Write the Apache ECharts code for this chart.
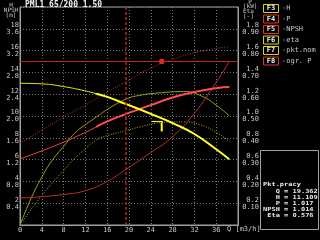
<!DOCTYPE html>
<html><head><meta charset="utf-8">
<script src="https://cdn.jsdelivr.net/npm/echarts@6/dist/echarts.min.js"></script>
<style>html,body{margin:0;padding:0;background:#000;}#c{width:320px;height:240px;}</style>
</head><body><div id="c"></div>
<script>
// ---- data ----
const title = 'PML1 65/200 1.50';
const qTickLabels = ['0','4','8','12','16','20','24','28','32','36'];
const hTickLabels = ['2','4','6','8','10','12','14','16','18'];
const npshTickLabels = ['0.4','0.8','1.2','1.6','2.0','2.4','2.8','3.2','3.6'];
const pTickLabels = ['0.2','0.4','0.6','0.8','1.0','1.2','1.4','1.6','1.8'];
const etaTickLabels = ['0.10','0.20','0.30','0.40','0.50','0.60','0.70','0.80','0.90'];

const qH    = [0, 4, 8, 12, 14, 16, 19.362, 24, 28, 32, 36, 38.4];
const hVals = [13.0, 12.95, 12.7, 12.3, 12.05, 11.75, 11.109, 10.2, 9.35, 8.35, 6.95, 6.03];

const qP    = [0, 4, 8, 12, 14, 16, 19.362, 24, 28, 32, 36, 38.4];
const pVals = [0.606, 0.68, 0.76, 0.85, 0.90, 0.95, 1.017, 1.10, 1.17, 1.22, 1.255, 1.265];

const qPmax    = [0, 4, 8, 12, 16, 20, 24, 28, 32, 36, 38.4];
const pMaxVals = [0.75, 0.87, 0.99, 1.10, 1.22, 1.33, 1.44, 1.52, 1.58, 1.62, 1.635];

const qNpsh    = [0, 4, 8, 12, 16, 19.362, 24, 28, 32, 36, 38.4];
const npshVals = [0.495, 0.52, 0.56, 0.63, 0.80, 1.014, 1.33, 1.62, 2.05, 2.62, 3.0];

const qEta    = [0, 2, 4, 6, 8, 10, 12, 14, 16, 19.362, 22, 26, 30, 33, 36, 38.4];
const etaVals = [0, 0.12, 0.22, 0.30, 0.36, 0.42, 0.46, 0.495, 0.53, 0.576, 0.595, 0.607, 0.612, 0.595, 0.55, 0.50];
const eta2Vals = [0, 0.07, 0.135, 0.195, 0.25, 0.305, 0.35, 0.39, 0.41, 0.432, 0.45, 0.47, 0.473, 0.46, 0.425, 0.383];

const thickFromQ = 14;
const opQ = 19.362;
const limitP = 1.5;
const nomQ = 26, nomH = 9.5;

const legendKeys = ['F3','F4','F5','F6','F7','F8'];
const legendTexts = ['-H','-P','-NPSH','-eta','-pkt.nom','-ogr. P'];
const legendColors = ['#d8d800','#e03030','#e03030','#d8d800','#d8d800','#e03030'];

const infoTitle = 'Pkt.pracy';
const infoLabels = ['Q','H','P','NPSH','Eta'];
const infoValues = ['19.362','11.109','1.017','1.014','0.576'];

// ---- build ----
const zip = (xs, ys) => xs.map((x, i) => [x, ys[i]]);
const F = 'DejaVu Sans Mono';
const TXT = '#c8c8c8';

function tickFmt(labels, step){
  return v => {
    const i = Math.round(v / step) - 1;
    return (i >= 0 && i < labels.length && Math.abs(v - (i+1)*step) < step*0.01) ? labels[i] : '';
  };
}

const chart = echarts.init(document.getElementById('c'));
const axisLine = {show:true, lineStyle:{color:'#a0a0a0', width:1}};
const lab = {fontFamily:F, fontSize:7, color:TXT};
const gridLine = {show:true, lineStyle:{color:'#747474', type:[1,2], width:1}};

const graphic = [];
graphic.push({type:'text', x:25, y:4.5, style:{text:title, font:'bold 8px '+F, fill:'#f0f0f0', verticalAlign:'middle'}});
graphic.push({type:'text', x:11, y:5, style:{text:'H', font:'6px '+F, fill:TXT, align:'center', verticalAlign:'middle'}});
graphic.push({type:'text', x:11, y:10, style:{text:'NPSH', font:'6px '+F, fill:TXT, align:'center', verticalAlign:'middle'}});
graphic.push({type:'text', x:11, y:15, style:{text:'[m]', font:'6px '+F, fill:TXT, align:'center', verticalAlign:'middle'}});
graphic.push({type:'text', x:250, y:2, style:{text:'P', font:'6px '+F, fill:TXT, align:'center', verticalAlign:'middle'}});
graphic.push({type:'text', x:243, y:6.5, style:{text:'[kW]', font:'6px '+F, fill:TXT, align:'left', verticalAlign:'middle'}});
graphic.push({type:'text', x:243, y:11.5, style:{text:'Eta', font:'6px '+F, fill:TXT, align:'left', verticalAlign:'middle'}});
graphic.push({type:'text', x:243, y:16.5, style:{text:'[-]', font:'6px '+F, fill:TXT, align:'left', verticalAlign:'middle'}});
graphic.push({type:'text', x:227, y:229, style:{text:'Q [m3/h]', font:'7px '+F, fill:TXT, align:'left', verticalAlign:'middle'}});

legendKeys.forEach((k, i) => {
  const y = 4 + i * 10.5;
  graphic.push({type:'rect', shape:{x:263.5, y:y+0.5, width:15, height:8}, style:{fill:'#000', stroke:legendColors[i], lineWidth:1}});
  graphic.push({type:'text', x:271, y:y+4.5, style:{text:k, font:'bold 7px '+F, fill:'#f0f0f0', align:'center', verticalAlign:'middle'}});
  graphic.push({type:'text', x:282, y:y+4.5, style:{text:legendTexts[i], font:'7px '+F, fill:TXT, align:'left', verticalAlign:'middle'}});
});

graphic.push({type:'rect', shape:{x:260.5, y:150.5, width:58, height:79}, style:{fill:'#000', stroke:'#a0a0a0', lineWidth:1}});
graphic.push({type:'text', x:263, y:154, scaleY:0.8, originY:154,
  style:{text:infoTitle, font:'bold 7px '+F, fill:'#f0f0f0', align:'left', verticalAlign:'middle'}});
infoLabels.forEach((l, i) => {
  const y = 159.5 + i * 5;
  const line = l.padStart(4, ' ') + ' = ' + infoValues[i];
  graphic.push({type:'text', x:263, y:y, scaleY:0.8, originY:y,
    style:{text:line, font:'bold 7px '+F, fill:'#e8e8e8', align:'left', verticalAlign:'middle'}});
});

const hThick = zip(qH, hVals).filter(p => p[0] >= thickFromQ);
const pThick = zip(qP, pVals).filter(p => p[0] >= thickFromQ);

chart.setOption({
  backgroundColor:'#000',
  animation:false,
  grid:{left:20, top:7, right:82, bottom:15, show:true, borderColor:'#a0a0a0', borderWidth:1, backgroundColor:'transparent'},
  xAxis:{type:'value', min:0, max:40, interval:4, axisLine, axisTick:{show:false},
    axisLabel:{...lab, margin:2, formatter:v => (v % 4 === 0 && v < 40) ? qTickLabels[v/4] : ''},
    splitLine:gridLine},
  yAxis:[
    {type:'value', min:0, max:20, interval:2, position:'left', axisLine, axisTick:{show:false},
      axisLabel:{...lab, margin:1, verticalAlign:'bottom', formatter:tickFmt(hTickLabels, 2)},
      splitLine:gridLine},
    {type:'value', min:0, max:4, interval:0.4, position:'left', axisLine:{show:false}, axisTick:{show:false},
      axisLabel:{...lab, margin:1, verticalAlign:'top', formatter:tickFmt(npshTickLabels, 0.4)}, splitLine:{show:false}},
    {type:'value', min:0, max:2, interval:0.2, position:'right', axisLine, axisTick:{show:false},
      axisLabel:{...lab, margin:21, align:'right', verticalAlign:'bottom', formatter:tickFmt(pTickLabels, 0.2)}, splitLine:{show:false}},
    {type:'value', min:0, max:1, interval:0.1, position:'right', axisLine:{show:false}, axisTick:{show:false},
      axisLabel:{...lab, margin:21, align:'right', verticalAlign:'top', formatter:tickFmt(etaTickLabels, 0.1)}, splitLine:{show:false}}
  ],
  graphic,
  series:[
    {type:'line', yAxisIndex:2, data:zip(qPmax, pMaxVals), smooth:true, symbol:'none', silent:true,
      lineStyle:{color:'#c83030', width:1, type:[1,1.5]},
      markLine:{symbol:'none', silent:true, label:{show:false},
        data:[{yAxis:limitP, lineStyle:{color:'#c82020', width:1, type:'solid'}}]}},
    {type:'line', yAxisIndex:3, data:zip(qEta, eta2Vals), smooth:true, symbol:'none', silent:true,
      lineStyle:{color:'#b0b000', width:1, type:[1,1.5]}},
    {type:'line', yAxisIndex:3, data:zip(qEta, etaVals), smooth:true, symbol:'none', silent:true,
      lineStyle:{color:'#a0a010', width:1}},
    {type:'line', yAxisIndex:1, data:zip(qNpsh, npshVals), smooth:true, symbol:'none', silent:true,
      lineStyle:{color:'#b83030', width:1}},
    {type:'line', yAxisIndex:2, data:zip(qP, pVals), smooth:true, symbol:'none', silent:true,
      lineStyle:{color:'#f04848', width:1}},
    {type:'line', yAxisIndex:2, data:pThick, smooth:true, symbol:'none', silent:true,
      lineStyle:{color:'#ff4c4c', width:2}},
    {type:'line', yAxisIndex:0, data:zip(qH, hVals), smooth:true, symbol:'none', silent:true,
      lineStyle:{color:'#e8e800', width:1},
      markLine:{symbol:'none', silent:true, label:{show:false},
        data:[{xAxis:opQ, lineStyle:{color:'#b02828', width:1.5, type:[3,2]}}]}},
    {type:'line', yAxisIndex:0, data:hThick, smooth:true, symbol:'none', silent:true,
      lineStyle:{color:'#ffff20', width:2}},
    {type:'scatter', yAxisIndex:2, data:[[nomQ, limitP]], symbol:'rect', symbolSize:4, silent:true,
      itemStyle:{color:'#ff5050', borderColor:'#ff2020', borderWidth:1}},
    {type:'custom', yAxisIndex:0, data:[[nomQ, nomH]], silent:true,
      renderItem:(params, api) => {
        const p = api.coord([api.value(0), api.value(1)]);
        return {type:'group', children:[
          {type:'line', shape:{x1:p[0]-10, y1:p[1], x2:p[0]+1, y2:p[1]}, style:{stroke:'#ffff20', lineWidth:1}},
          {type:'line', shape:{x1:p[0], y1:p[1], x2:p[0], y2:p[1]+10}, style:{stroke:'#ffff20', lineWidth:2}}
        ]};
      }}
  ]
});
</script></body></html>
